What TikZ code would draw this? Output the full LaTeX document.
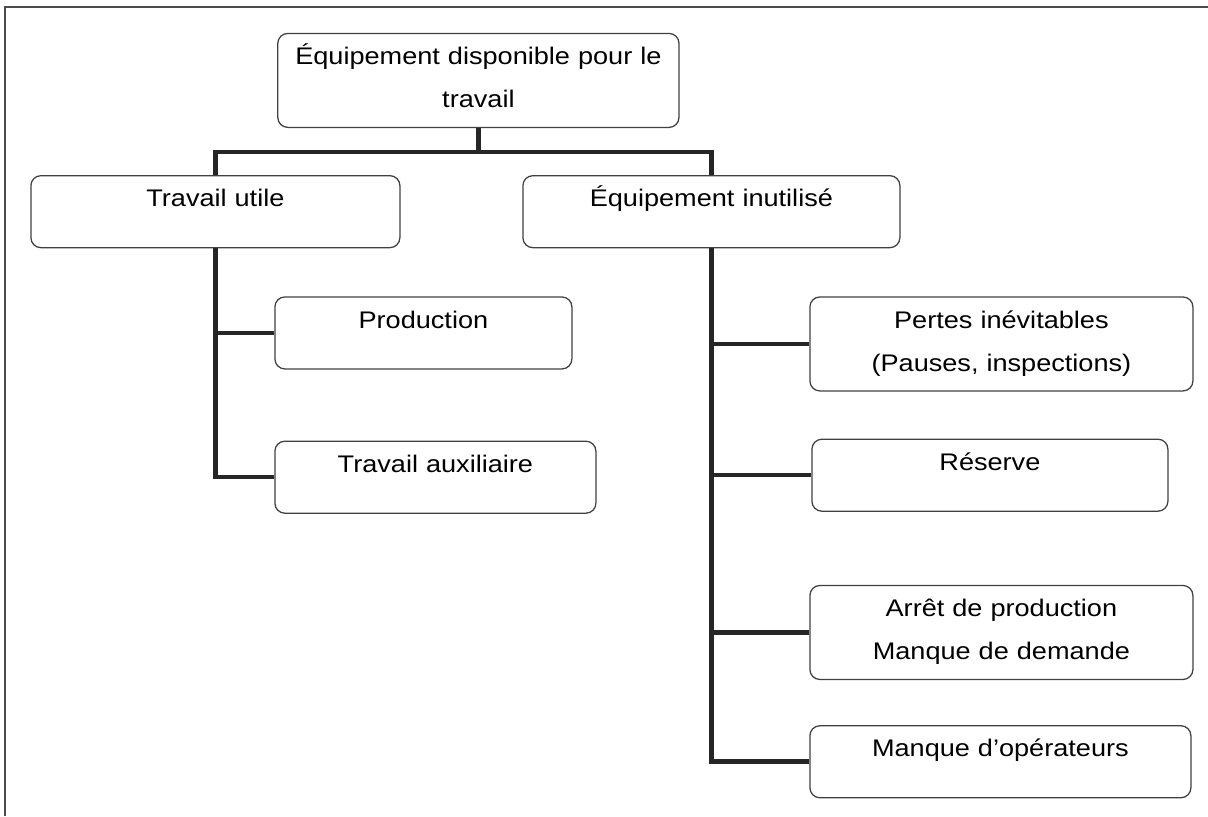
\documentclass[tikz,border=0pt]{standalone}
\usepackage{fontspec}
\setmainfont{Liberation Sans}[FakeStretch=1.13]
\usetikzlibrary{positioning}
\tikzset{
    box/.style={draw=black!75,line width=0.9pt,rounded corners=0.25cm,inner sep=0pt,
        align=center,text height=0.78cm,font=\fontsize{17.07}{30.6}\selectfont},
    onerow/.style={box,text depth=1.02cm},
    tworow/.style={box,text depth=1.57cm},
    link/.style={line width=3.2pt,draw=black!85},
    frame/.style={line width=1pt,draw=black!70}
}

\begin{document}
\begin{tikzpicture}

                \useasboundingbox (0,0) rectangle (30.2,-20.4);
                \draw[frame] (0.125,-20.4) |- (30.2,-0.175);

                \node[tworow, text width=10.03cm] (dispo) at (11.96,-2.01) {Équipement disponible pour le\\travail};

                \node[onerow, text width=9.225cm] (utile)  [below=1.175cm of dispo, xshift=-6.575cm] {Travail utile};
                \node[onerow, text width=9.425cm] (inutil) [below=1.175cm of dispo, xshift=5.825cm]  {Équipement inutilisé};

                \node[onerow, text width=7.425cm] (prod) [below right=1.2cm and 6.1cm of utile.south west] {Production};
                \node[onerow, text width=8.025cm] (aux)  [below=1.775cm of prod.south west, anchor=north west] {Travail auxiliaire};

                \node[tworow, text width=9.575cm] (pertes)  [below right=1.2cm and 7.175cm of inutil.south west] {Pertes inévitables\\(Pauses, inspections)};
                \node[onerow, text width=8.9cm]   (reserve) [below=1.175cm of pertes.south west, anchor=north west, xshift=0.05cm] {Réserve};
                \node[tworow, text width=9.575cm] (arret)   [below=1.825cm of reserve.south west, anchor=north west, xshift=-0.05cm] {Arrêt de production\\Manque de demande};
                \node[onerow, text width=9.525cm] (manque)  [below=1.125cm of arret.south west, anchor=north west] {Manque d’opérateurs};

                \draw[link] (dispo.south) -- ++(0,-0.6) coordinate (bus);
                \draw[link] (utile.north) |- (bus) -| (inutil.north);

                \draw[link] (utile.south) |- (prod.west);
                \draw[link] (utile.south) |- (aux.west);

                \draw[link] (inutil.south) |- (pertes.west);
                \draw[link] (inutil.south) |- (reserve.west);
                \draw[link] (inutil.south) |- (arret.west);
                \draw[link] (inutil.south) |- (manque.west);

            \end{tikzpicture}
\end{document}
